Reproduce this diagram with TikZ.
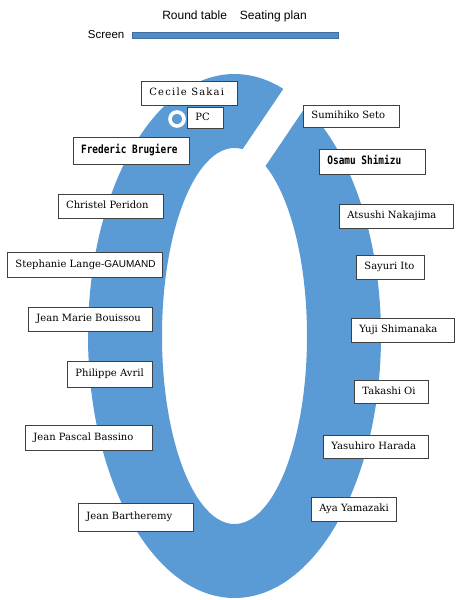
\documentclass[tikz,border=0pt]{standalone}
\usepackage{fontspec}
\usetikzlibrary{shadows}
\setmainfont{DejaVu Serif}
\newfontfamily\sansnm{Liberation Sans}
\newfontfamily\serifnm{DejaVu Serif}
\newfontfamily\serifwide[LetterSpace=12]{DejaVu Serif}
\newfontfamily\mononm[FakeStretch=0.82]{DejaVu Sans Mono}
\definecolor{tblblue}{HTML}{5B9BD5}
\definecolor{barblue}{HTML}{4F8CC9}
\definecolor{boxline}{HTML}{404040}
\tikzset{
  namebox/.style={draw=boxline, line width=0.8pt, fill=white, anchor=north west,
    inner xsep=8pt, inner ysep=0pt,
    font=\serifnm\fontsize{10}{12}\selectfont,
    drop shadow={shadow xshift=1pt, shadow yshift=-1pt, opacity=0.25, fill=black}},
  monofont/.style={font=\mononm\bfseries\fontsize{11.5}{13}\selectfont},
  widefont/.style={font=\serifwide\fontsize{10}{12}\selectfont},
  titlefont/.style={font=\sansnm\fontsize{12}{14}\selectfont},
}
\newcommand\nbox[7][]{%
  \pgfmathsetmacro\bw{#5-#3-16}%
  \pgfmathsetmacro\bh{#6-#4}%
  \node[namebox, #1, minimum height=\bh pt] (#2) at (#3,#4)
    {\makebox[\bw pt][l]{\strut #7}};}
\begin{document}
\begin{tikzpicture}[x=1pt,y=-1pt]
\useasboundingbox (0,0) rectangle (462,600);
% title and screen
\node[titlefont] (title) at (234.5,16) {Round table\hspace{13pt}Seating plan};
\node[titlefont, font=\sansnm\fontsize{11.5}{13}\selectfont, anchor=east, inner sep=0pt] (screenlbl) at (124.5,35) {Screen};
\node[fill=barblue, draw=barblue!80!black, line width=0.5pt, minimum width=206pt, minimum height=6pt, inner sep=0pt] (screenbar) at (235,35.7) {};
% table
\fill[tblblue, even odd rule] (234.5,336) ellipse [x radius=146.5, y radius=262]
  (234.5,336) ellipse [x radius=72.5, y radius=188];
\fill[white] (303,60) -- (337,60) -- (259.3,175) -- (225.3,175) -- cycle;
\draw[white, line width=3.6pt] (177,119) circle [radius=7];
% boxes
\nbox[widefont]{cecile}{141}{81}{237}{105}{Cecile Sakai}
\nbox{pc}{187}{107}{223}{128}{PC}
\nbox[monofont]{frederic}{72.7}{136.7}{189}{164}{Frederic Brugiere}
\nbox{christel}{57.7}{194}{163}{218}{Christel Peridon}
\nbox{stephanie}{7}{252}{162}{277}{Stephanie Lange{\sansnm -GAUMAND}}
\nbox{jeanmarie}{28}{307}{152}{331}{Jean Marie Bouissou}
\nbox{philippe}{67}{361}{152}{387}{Philippe Avril}
\nbox{jeanpascal}{25}{425}{152}{450}{Jean Pascal Bassino}
\nbox{jeanbart}{78}{503}{193}{531}{Jean Bartheremy}
\nbox{sumihiko}{303}{105}{399}{127}{Sumihiko Seto}
\nbox[monofont]{osamu}{319}{149}{425}{174}{Osamu Shimizu}
\nbox{atsushi}{339}{204}{453}{228}{Atsushi Nakajima}
\nbox{sayuri}{356}{255}{424}{279}{Sayuri Ito}
\nbox{yuji}{351}{318}{454}{342}{Yuji Shimanaka}
\nbox{takashi}{354}{380}{428}{403}{Takashi Oi}
\nbox{yasuhiro}{323}{435}{428}{458}{Yasuhiro Harada}
\nbox{aya}{311}{497}{396}{521}{Aya Yamazaki}
\end{tikzpicture}
\end{document}
